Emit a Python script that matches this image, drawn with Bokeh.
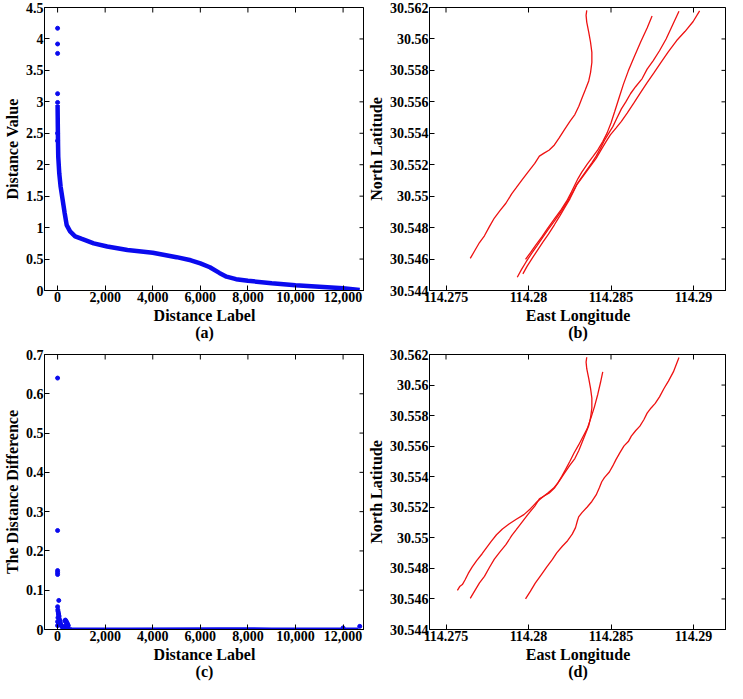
import math
from bokeh.plotting import figure
from bokeh.models import FixedTicker, Range1d
from bokeh.layouts import row, column
from bokeh.embed import file_html
from bokeh.resources import INLINE

# ---------------- data ----------------
# (a) sorted distance values
rank_x = [0, 10, 20, 28, 71, 128, 213, 298, 383, 525, 738, 1021, 1518, 2085, 2936,
          4000, 5000, 5600, 6000, 6400, 6800, 7100, 7500, 8000, 9000, 10000, 11000,
          12000, 12700]
rank_y = [2.95, 2.6, 2.3, 2.13, 1.86, 1.65, 1.44, 1.23, 1.04, 0.94, 0.86, 0.82, 0.75,
          0.70, 0.645, 0.60, 0.53, 0.48, 0.43, 0.37, 0.28, 0.22, 0.18, 0.155, 0.115,
          0.085, 0.06, 0.035, 0.01]
outlier_x = [0, 0, 0, 0, 0, 0, 0]
outlier_y = [4.17, 3.92, 3.77, 3.13, 2.99, 2.5, 2.38]

# (c) distance differences
diff_x = [0, 0, 0, 0, 0, 50, 0, 10, 20, 30, 40, 50, 60, 15, 70, 80, 90, 100, 120, 140,
          160, 180, 200, 250, 300, 330, 360, 390, 420, 450, 350, 400, 0, 0, 40, 60,
          12000, 12700]
diff_y = [0.64, 0.252, 0.150, 0.145, 0.140, 0.074, 0.058, 0.050, 0.046, 0.042, 0.039,
          0.036, 0.033, 0.030, 0.027, 0.024, 0.021, 0.018, 0.015, 0.012, 0.010, 0.008,
          0.006, 0.005, 0.022, 0.024, 0.021, 0.018, 0.014, 0.010, 0.012, 0.008, 0.020,
          0.010, 0.015, 0.012, 0.004, 0.008]
diff_line_x = [150, 600, 3000, 6800, 9000, 12650]
diff_line_y = [0.004, 0.002, 0.0015, 0.002, 0.0015, 0.0015]

# (b) trajectories
b1_lon = [114.27647, 114.27673, 114.27703, 114.27733, 114.27763, 114.27793, 114.27827,
          114.27863, 114.27886, 114.27898, 114.27926, 114.27962, 114.27998, 114.28038,
          114.28066, 114.28092, 114.28126, 114.28157, 114.28185, 114.28217, 114.28251,
          114.28281, 114.28305, 114.28325, 114.28345, 114.28365, 114.28376, 114.28384,
          114.28384, 114.28376, 114.28365, 114.28353, 114.28349, 114.28353]
b1_lat = [30.54604, 30.54651, 30.54705, 30.54748, 30.54806, 30.54861, 30.54908,
          30.54955, 30.54994, 30.55015, 30.55054, 30.55105, 30.55155, 30.55208,
          30.55255, 30.55272, 30.55294, 30.55326, 30.55369, 30.55422, 30.55476,
          30.55519, 30.55572, 30.55626, 30.55679, 30.55733, 30.55786, 30.5585,
          30.55915, 30.55979, 30.56043, 30.56107, 30.5615, 30.56182]

b2_lon = [114.27982, 114.28012, 114.28045, 114.28081, 114.28117, 114.28157, 114.28197,
          114.28231, 114.2826, 114.2828, 114.283, 114.28324, 114.28356, 114.2839,
          114.2842, 114.2845, 114.28476, 114.285, 114.28523, 114.28549, 114.28575,
          114.28605, 114.28639, 114.28679, 114.28719, 114.28749]
b2_lat = [30.54598, 30.54641, 30.5469, 30.54741, 30.54797, 30.54855, 30.54913,
          30.54968, 30.55026, 30.55069, 30.55112, 30.55155, 30.55204, 30.55251,
          30.55294, 30.55347, 30.55401, 30.55465, 30.5554, 30.55626, 30.55711,
          30.55797, 30.55882, 30.55979, 30.56069, 30.56146]

b3_lon = [114.27966, 114.27992, 114.28022, 114.28051, 114.28085, 114.28121, 114.28157,
          114.28191, 114.28221, 114.28251, 114.28276, 114.28296, 114.28324, 114.28356,
          114.28384, 114.2841, 114.28436, 114.2846, 114.28484, 114.28512, 114.28536,
          114.28563, 114.28589, 114.28619, 114.28649, 114.28689, 114.28719, 114.28755,
          114.28794, 114.28834, 114.28874, 114.28912]
b3_lat = [30.54506, 30.54555, 30.54604, 30.54651, 30.54705, 30.54758, 30.54818,
          30.54876, 30.5493, 30.54983, 30.55037, 30.5508, 30.55122, 30.5517, 30.55212,
          30.55255, 30.55304, 30.55354, 30.55396, 30.55444, 30.55497, 30.55555,
          30.55598, 30.55653, 30.55696, 30.55748, 30.55808, 30.55861, 30.55925,
          30.56, 30.5609, 30.56176]

b4_lon = [114.27932, 114.27958, 114.27986, 114.28018, 114.28051, 114.28085, 114.28121,
          114.28161, 114.28201, 114.28237, 114.28265, 114.2829, 114.2832, 114.2835,
          114.2838, 114.2841, 114.2844, 114.2847, 114.28496, 114.2853, 114.28563,
          114.28599, 114.28639, 114.28679, 114.28719, 114.28759, 114.28802, 114.28848,
          114.28898, 114.28948, 114.28998, 114.29037]
b4_lat = [30.54484, 30.54534, 30.54583, 30.54634, 30.54684, 30.54737, 30.54791,
          30.54848, 30.54908, 30.54968, 30.5502, 30.55069, 30.55112, 30.55155,
          30.55197, 30.5524, 30.55294, 30.55347, 30.5539, 30.55433, 30.55476, 30.5553,
          30.55593, 30.55658, 30.55722, 30.55782, 30.5585, 30.55919, 30.5599, 30.56047,
          30.56111, 30.56178]

# (d) trajectories
d1_lon = [114.27569, 114.27583, 114.27599, 114.27615, 114.27635, 114.27659, 114.27687,
          114.27719, 114.27747, 114.27774, 114.27806, 114.27842, 114.27882, 114.27926,
          114.27972, 114.28012, 114.28045, 114.28077, 114.28117, 114.28151, 114.28177,
          114.28201, 114.28225, 114.28251, 114.28276, 114.28304, 114.2833, 114.28356,
          114.2838, 114.284, 114.2842, 114.28436, 114.2845]
d1_lat = [30.54656, 30.54681, 30.54694, 30.54724, 30.54767, 30.5481, 30.54853,
          30.54896, 30.54938, 30.54977, 30.5502, 30.55058, 30.5509, 30.55122, 30.55152,
          30.55191, 30.55229, 30.55259, 30.55294, 30.55324, 30.55358, 30.55401,
          30.55448, 30.55501, 30.55555, 30.55608, 30.55662, 30.55715, 30.5579,
          30.55859, 30.5594, 30.56015, 30.56086]

d2_lon = [114.27982, 114.28012, 114.28041, 114.28077, 114.28111, 114.28145, 114.28171,
          114.28205, 114.28237, 114.28265, 114.28285, 114.28296, 114.28304, 114.28324,
          114.28356, 114.28384, 114.2841, 114.2843, 114.28444, 114.2846, 114.2849,
          114.2851, 114.2853, 114.28555, 114.28579, 114.28605, 114.28623, 114.28649,
          114.28675, 114.28699, 114.28719, 114.28743, 114.28768, 114.28794, 114.28822,
          114.28848, 114.28878, 114.28912]
d2_lat = [30.546, 30.54651, 30.54703, 30.54758, 30.5481, 30.54859, 30.54902, 30.54945,
          30.54981, 30.55024, 30.55067, 30.5511, 30.55137, 30.55165, 30.55202,
          30.55238, 30.55281, 30.5533, 30.55367, 30.55394, 30.55431, 30.55469,
          30.55512, 30.55559, 30.55602, 30.5563, 30.55666, 30.55701, 30.55731,
          30.55773, 30.55816, 30.5585, 30.5588, 30.55923, 30.55979, 30.56026,
          30.56086, 30.5618]

# ranges and ticks
label_range = (-550, 12900)
value_range = (0, 4.5)
diff_range = (0, 0.7)
lon_range = (114.274, 114.292)
lat_range = (30.544, 30.562)
label_ticks = [0, 2000, 4000, 6000, 8000, 10000, 12000]
label_tick_text = ["0", "2,000", "4,000", "6,000", "8,000", "10,000", "12,000"]
value_ticks = [0, 0.5, 1, 1.5, 2, 2.5, 3, 3.5, 4, 4.5]
value_tick_text = ["0", "0.5", "1", "1.5", "2", "2.5", "3", "3.5", "4", "4.5"]
diff_ticks = [0, 0.1, 0.2, 0.3, 0.4, 0.5, 0.6, 0.7]
diff_tick_text = ["0", "0.1", "0.2", "0.3", "0.4", "0.5", "0.6", "0.7"]
lon_ticks = [114.275, 114.28, 114.285, 114.29]
lon_tick_text = ["114.275", "114.28", "114.285", "114.29"]
lat_ticks = [30.544, 30.546, 30.548, 30.55, 30.552, 30.554, 30.556, 30.558, 30.56, 30.562]
lat_tick_text = ["30.544", "30.546", "30.548", "30.55", "30.552", "30.554", "30.556",
                 "30.558", "30.56", "30.562"]

FONT = "Liberation Serif"
BLUE = "#0a0aee"
RED = "#ee1111"


def style_axis(ax, ticks, texts, label):
    ax.ticker = FixedTicker(ticks=ticks)
    ax.major_tick_in = 5
    ax.major_tick_out = 0
    ax.minor_tick_in = 0
    ax.minor_tick_out = 0
    ax.major_tick_line_color = "black"
    ax.minor_tick_line_color = None
    ax.axis_line_color = "black"
    ax.major_label_overrides = dict(zip(ticks, texts))
    ax.major_label_text_font = FONT
    ax.major_label_text_font_style = "bold"
    ax.major_label_text_color = "black"
    ax.major_label_text_font_size = "14px"
    ax.major_label_text_line_height = 1.0
    ax.major_label_standoff = 1
    ax.axis_label = label
    ax.axis_label_text_font = FONT
    ax.axis_label_text_font_style = "bold"
    ax.axis_label_text_font_size = "16px"
    ax.axis_label_text_color = "black"
    ax.axis_label_text_line_height = 1.0
    ax.axis_label_standoff = 2


def make_fig(w, h, xr, yr, bl, br, bt, bb, xt, xtt, yt, ytt, xlabel, ylabel):
    p = figure(width=w, height=h, x_range=Range1d(*xr), y_range=Range1d(*yr),
               output_backend="svg", toolbar_location=None,
               min_border_left=bl, min_border_right=br, min_border_top=bt,
               min_border_bottom=bb)
    p.xgrid.visible = False
    p.ygrid.visible = False
    p.outline_line_color = "black"
    p.outline_line_width = 1
    p.background_fill_color = "white"
    p.border_fill_color = "white"
    style_axis(p.xaxis[0], xt, xtt, xlabel)
    style_axis(p.yaxis[0], yt, ytt, ylabel)
    # mirrored inward ticks on the top and right edges (half of each dash is clipped)
    p.scatter(xt, [yr[1]] * len(xt), marker="dash", angle=math.pi / 2, size=10,
              line_color="black", line_width=1)
    p.scatter([xr[1]] * len(yt), yt, marker="dash", size=10,
              line_color="black", line_width=1)
    return p


pa = make_fig(364, 343, label_range, value_range, 37, 0, 4, 40,
              label_ticks, label_tick_text, value_ticks, value_tick_text,
              "Distance Label\n(a)", "Distance Value")
pa.line(rank_x, rank_y, line_color=BLUE, line_width=4.5)
pa.scatter(outlier_x, outlier_y, size=4, color=BLUE)

pb = make_fig(362, 343, lon_range, lat_range, 63, -10, 7, 40,
              lon_ticks, lon_tick_text, lat_ticks, lat_tick_text,
              "East Longitude\n(b)", "North Latitude")
for lo, la in [(b1_lon, b1_lat), (b2_lon, b2_lat), (b3_lon, b3_lat), (b4_lon, b4_lat)]:
    pb.line(lo, la, line_color=RED, line_width=1.3)

pc = make_fig(364, 339, label_range, diff_range, 36, 0, 4, 40,
              label_ticks, label_tick_text, diff_ticks, diff_tick_text,
              "Distance Label\n(c)", "The Distance Difference")
pc.line(diff_line_x, diff_line_y, line_color=BLUE, line_width=3)
pc.scatter(diff_x, diff_y, size=4, color=BLUE)

pd = make_fig(362, 339, lon_range, lat_range, 63, -10, 11, 40,
              lon_ticks, lon_tick_text, lat_ticks, lat_tick_text,
              "East Longitude\n(d)", "North Latitude")
for lo, la in [(b1_lon, b1_lat), (d1_lon, d1_lat), (d2_lon, d2_lat)]:
    pd.line(lo, la, line_color=RED, line_width=1.3)

layout = column(row(pa, pb), row(pc, pd))
open("out.html", "w").write(file_html(layout, INLINE))
